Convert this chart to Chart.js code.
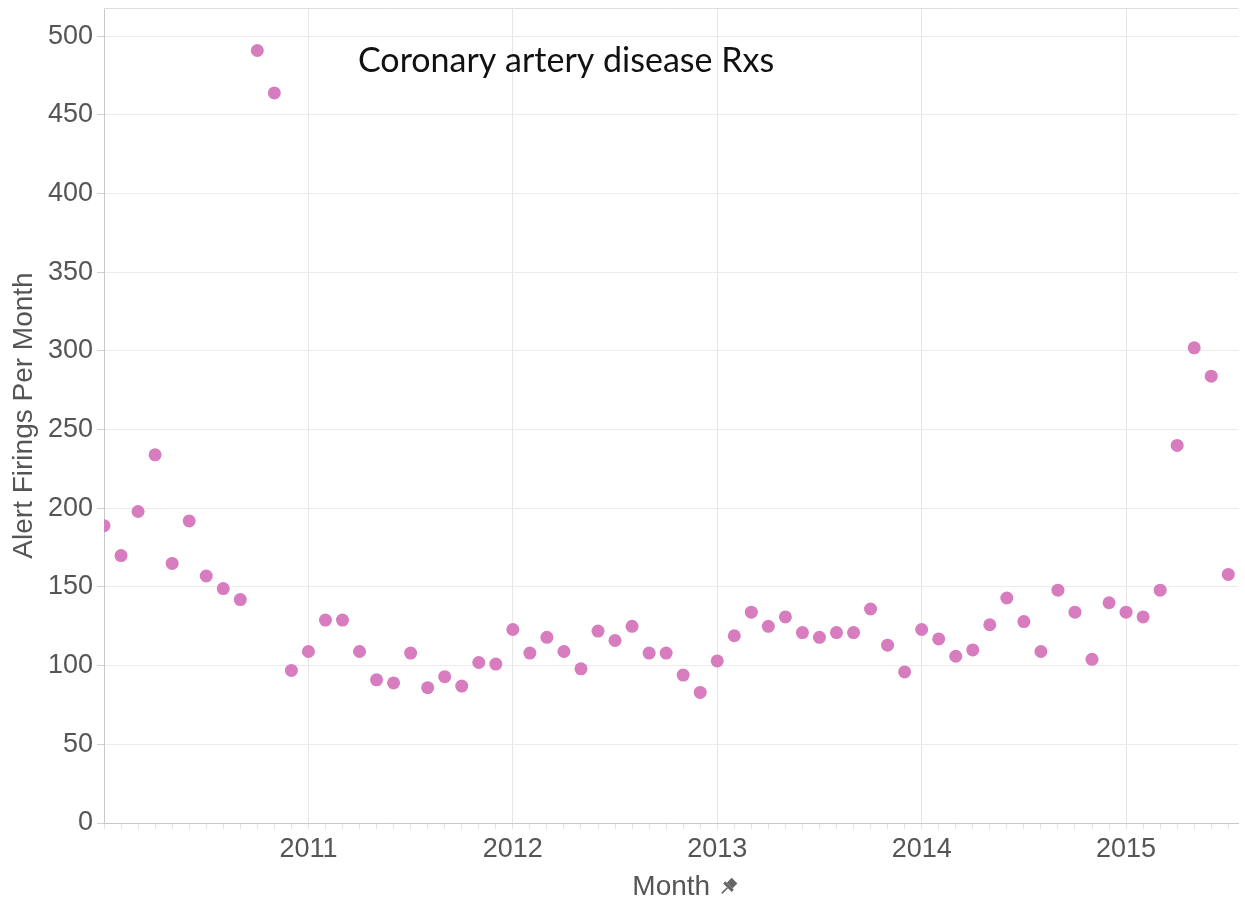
<!DOCTYPE html>
<html>
<head>
<meta charset="utf-8">
<script src="https://cdn.jsdelivr.net/npm/chart.js@4"></script>
<style>
  html, body { margin: 0; padding: 0; background: #fff; }
  #wrap { width: 1245px; height: 905px; }
</style>
</head>
<body>
<div id="wrap"><canvas id="alertChart"></canvas></div>
<script>
// monthly alert firings, Jan 2010 .. Jul 2015
const years = [2010, 2011, 2012, 2013, 2014, 2015];
const firings_2010 = [189, 170, 198, 234, 165, 192, 157, 149, 142, 491, 464, 97];
const firings_2011 = [109, 129, 129, 109, 91, 89, 108, 86, 93, 87, 102, 101];
const firings_2012 = [123, 108, 118, 109, 98, 122, 116, 125, 108, 108, 94, 83];
const firings_2013 = [103, 119, 134, 125, 131, 121, 118, 121, 121, 136, 113, 96];
const firings_2014 = [123, 117, 106, 110, 126, 143, 128, 109, 148, 134, 104, 140];
const firings_2015 = [134, 131, 148, 240, 302, 284, 158];
const yTicks = [0, 50, 100, 150, 200, 250, 300, 350, 400, 450, 500];

const chartTitle = 'Coronary artery disease Rxs';
const dotColor = '#d77cbe';
const tickFont = { family: "'Liberation Sans', Arial, sans-serif", size: 27 };
const titleFont = { family: "'Liberation Sans', Arial, sans-serif", size: 28 };

// x = months since Jan 2010
var dataPoints = [];
[firings_2010, firings_2011, firings_2012, firings_2013, firings_2014, firings_2015].forEach(function (vals, yi) {
    for (var m = 0; m < vals.length; m++) {
        dataPoints.push({ x: yi * 12 + m, y: vals[m] });
    }
});

function noPad(s) {
    s.paddingTop = 0;
    s.paddingBottom = 0;
    s.paddingLeft = 0;
    s.paddingRight = 0;
}

const extras = {
    id: 'extras',
    afterDraw(chart) {
        const ctx = chart.ctx;
        const area = chart.chartArea;
        ctx.save();
        // top border of the pane
        ctx.strokeStyle = '#dedede';
        ctx.lineWidth = 1;
        ctx.beginPath();
        ctx.moveTo(area.left, area.top + 0.5);
        ctx.lineTo(area.right, area.top + 0.5);
        ctx.stroke();

        // caption inside the plot
        ctx.fillStyle = '#111';
        ctx.font = "34px Lato, 'Open Sans', sans-serif";
        ctx.textAlign = 'left';
        ctx.textBaseline = 'alphabetic';
        ctx.fillText(chartTitle, area.left + 254, area.top + 64);

        // little pin after "Month"
        ctx.font = titleFont.size + 'px ' + titleFont.family;
        const w = ctx.measureText('Month').width;
        const px = (area.left + area.right) / 2 + w / 2 + 18;
        const py = 887;
        ctx.translate(px, py);
        ctx.rotate(Math.PI / 4);
        ctx.fillStyle = '#666';
        ctx.fillRect(-4, -9, 8, 7);
        ctx.fillRect(-6, -2, 12, 3);
        ctx.fillRect(-0.8, 1, 1.6, 8);
        ctx.restore();
    }
};

const ctx1 = document.getElementById('alertChart').getContext('2d');
const alertChart = new Chart(ctx1, {
    type: 'scatter',
    data: {
        datasets: [{
            label: 'Alert Firings Per Month',
            data: dataPoints,
            backgroundColor: dotColor,
            borderColor: dotColor,
            borderWidth: 0,
            pointRadius: 6.5,
            pointHoverRadius: 6.5
        }]
    },
    options: {
        animation: false,
        responsive: true,
        maintainAspectRatio: false,
        layout: { padding: { top: 8, right: 2, bottom: 0, left: 0 } },
        plugins: {
            legend: { display: false },
            tooltip: { enabled: false }
        },
        scales: {
            x: {
                type: 'linear',
                min: 0,
                max: 66.6,
                afterFit: function (s) { s.height = 82; noPad(s); },
                ticks: {
                    stepSize: 1,
                    includeBounds: false,
                    autoSkip: false,
                    maxRotation: 0,
                    font: tickFont,
                    color: '#555',
                    padding: 4,
                    callback: function (v) {
                        return (v > 0 && v % 12 === 0) ? String(years[0] + v / 12) : '';
                    }
                },
                grid: {
                    color: function (c) {
                        return (c.tick && c.tick.value % 12 === 0) ? '#e6e6e6' : 'rgba(0,0,0,0)';
                    },
                    tickColor: '#e4e4e4',
                    tickLength: 6
                },
                border: { color: '#c8c8c8' },
                title: {
                    display: true,
                    text: 'Month',
                    font: titleFont,
                    color: '#555',
                    padding: { top: 0, bottom: 1 }
                }
            },
            y: {
                min: 0,
                max: 518,
                afterFit: function (s) { s.width = 104; noPad(s); },
                afterBuildTicks: function (s) {
                    s.ticks = yTicks.map(function (v) { return { value: v }; });
                },
                ticks: {
                    font: tickFont,
                    color: '#555',
                    padding: 4
                },
                grid: {
                    color: '#ebebeb',
                    tickColor: '#d0d0d0',
                    tickLength: 7
                },
                border: { color: '#c8c8c8' },
                title: {
                    display: true,
                    text: 'Alert Firings Per Month',
                    font: titleFont,
                    color: '#555',
                    padding: { top: 7, bottom: 0 }
                }
            }
        }
    },
    plugins: [extras]
});
</script>
</body>
</html>
